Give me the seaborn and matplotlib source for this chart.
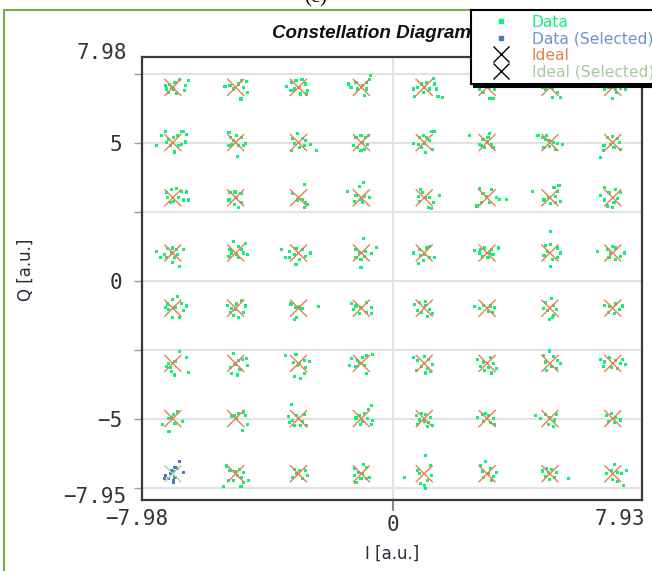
"""Constellation diagram (64-QAM) recreated with seaborn."""

import pandas as pd
import matplotlib
matplotlib.use("Agg")
import matplotlib.pyplot as plt
from matplotlib.lines import Line2D
from matplotlib.patches import Rectangle
import seaborn as sns

# Ideal levels of the constellation
i_levels = [-7, -5, -3, -1, 1, 3, 5, 7]
q_levels = [7, 5, 3, 1, -1, -3, -5, -7]

# received points, read off the picture as offsets (1/100 a.u.) from each
# ideal point; one list per cluster, clusters ordered by i_levels
row_q7 = [
    [(-24, 8), (-14, -18), (2, -6), (7, 18), (20, 28), (50, 24), (39, 8), (37, -12), (11, -22), (-5, 0), (-19, -6), (-10, 10)],
    [(-34, 4), (-18, 6), (19, 24), (35, 21), (24, 0), (38, -18), (17, -42), (-7, -6), (8, 12)],
    [(-38, 4), (-21, 18), (-8, 24), (11, 28), (23, 12), (29, -12), (25, -24), (7, -24), (-14, -6), (-24, -12), (2, 0)],
    [(-40, 12), (-33, -2), (-17, 16), (4, 6), (17, 18), (25, 30), (29, 42), (15, -6), (10, -30), (-12, -6)],
    [(-35, -6), (-22, 0), (-8, 12), (7, 18), (29, 33), (34, 12), (39, -6), (58, -36), (44, -33), (18, -6), (-3, -18), (-30, -33), (2, 0)],
    [(-39, 12), (-23, -6), (-7, 6), (8, 0), (24, -6), (8, -40), (19, -40), (-13, -18), (-23, 30), (8, 36)],
    [(-24, 0), (-8, 8), (7, -4), (23, -18), (34, -36), (7, -36), (-14, -6), (2, 30), (13, 24)],
    [(-25, -6), (-12, 0), (10, -6), (25, -4), (41, -6), (13, -18), (-1, -40), (-17, 12), (15, 18)],
]
row_q5 = [
    [(-51, -10), (-35, 24), (-24, 39), (-14, 12), (2, 18), (16, 24), (27, 39), (34, 39), (45, 28), (39, 2), (29, -6), (18, -12), (5, -34), (-8, -12), (-19, 0)],
    [(-21, 36), (-15, 18), (3, 24), (19, 18), (32, -2), (24, -12), (8, -10), (-13, -6), (-21, -12), (6, -52), (-7, 6)],
    [(-3, 34), (-19, 15), (13, 15), (23, 6), (39, -6), (57, -29), (18, -12), (2, -18), (-22, -30), (-14, -2)],
    [(-17, 18), (-1, 24), (13, 18), (23, 24), (20, -6), (10, -24), (-12, -18), (-25, -12), (4, 0), (-1, -30)],
    [(-35, -2), (-16, 18), (-3, 27), (7, 18), (23, 39), (31, 39), (18, 6), (27, -24), (5, -36), (-8, -18), (-19, -6), (2, -2)],
    [(-57, 24), (-23, -6), (-13, 12), (3, 18), (8, 34), (14, -6), (19, -18), (-7, -18), (-18, -10), (0, 2)],
    [(-38, 24), (-24, 18), (-11, 27), (-3, 6), (11, 0), (23, -2), (39, -6), (18, -24), (0, -15), (-19, -18), (-14, 12)],
    [(-17, 18), (-1, 22), (15, 15), (20, 0), (-6, -6), (-28, -10), (-30, -30), (-38, -54), (4, -18), (25, -24)],
]
row_q3 = [
    [(-19, 18), (-5, 30), (13, 33), (27, 24), (45, 21), (50, -8), (34, -8), (18, 0), (2, -12), (-8, -18), (-16, 0)],
    [(-18, 18), (-2, 21), (17, 16), (19, -18), (8, -36), (-4, -24), (-21, -8), (3, 0)],
    [(18, 48), (-19, 16), (11, -6), (23, -18), (18, -36), (29, -24), (-3, -8)],
    [(6, 54), (-6, 42), (-44, 24), (-17, 8), (10, 6), (25, 0), (-1, -6), (-22, -12), (4, -18)],
    [(-12, 30), (-5, 18), (-19, 6), (5, 0), (16, 0), (48, 8), (29, -18), (23, -40), (13, -36), (-14, -12)],
    [(-25, 33), (-13, 16), (14, 30), (30, 0), (40, -6), (61, -6), (8, -18), (-18, -18), (-32, -30), (-2, 6)],
    [(-56, 24), (13, 36), (29, 45), (23, 24), (18, 6), (34, -12), (18, -18), (2, -21), (-19, -8), (-3, 0)],
    [(-25, 36), (-38, 8), (-12, 18), (10, 30), (25, 18), (15, -4), (4, -18), (-17, -30), (-1, -36), (-25, -8)],
]
row_q1 = [
    [(-51, 6), (-40, -15), (-27, -6), (-16, 15), (-1, 18), (13, 12), (34, 12), (16, -6), (5, -18), (-1, -36), (20, -48), (-19, -18), (-5, 0)],
    [(-7, 42), (32, 34), (8, 24), (-18, 12), (19, 12), (38, -6), (24, 0), (8, -18), (-21, -12), (-13, 0), (3, -6)],
    [(-53, 12), (-30, 6), (-8, 15), (13, 12), (39, 0), (23, -12), (2, -24), (-8, -42), (-30, -15), (-42, -15), (-14, -6)],
    [(6, 54), (47, 21), (-17, 12), (-6, 0), (13, 6), (10, -12), (-1, -24), (-17, -18), (-1, -54), (31, -2)],
    [(-35, 0), (-14, 12), (7, 18), (16, 24), (2, -6), (18, -18), (34, -18), (-3, -27), (-19, -39), (-12, -10)],
    [(-39, 10), (-21, 12), (-7, 18), (14, 12), (35, 18), (19, -6), (3, -18), (-15, -12), (-25, 0), (8, 0)],
    [(2, 79), (-14, 27), (2, 30), (23, 18), (34, 0), (25, -18), (7, -24), (2, -48), (-19, -10), (-8, 6)],
    [(-49, 6), (-17, 12), (-1, 22), (10, 18), (36, 0), (25, -12), (10, -24), (-12, -18), (-6, 0)],
]
row_qm1 = [
    [(-24, 2), (-16, 15), (-1, 30), (16, 42), (27, 18), (45, 8), (34, -10), (20, -34), (-1, -34), (-14, -4), (7, 2)],
    [(-25, 11), (-13, -1), (3, 15), (19, 27), (32, 8), (24, -16), (8, -34), (-7, -25), (-15, -16), (0, -6)],
    [(-24, 15), (-8, 2), (11, -1), (64, 5), (-6, -34), (-14, -40), (2, 6)],
    [(-30, 18), (-17, 8), (-1, 2), (15, 21), (31, 2), (31, -18), (15, -16), (-6, -18), (-25, -6)],
    [(-30, 12), (-14, 20), (5, 10), (18, -5), (-8, -15), (10, -30), (25, -20), (-20, -8), (3, 25)],
    [(-40, 5), (-25, 0), (12, 8), (25, 2), (5, -12), (-10, 10), (18, -15)],
    [(-15, 20), (5, 35), (12, 10), (-8, -10), (10, -25), (0, -42), (20, -5), (-20, 0), (8, -35)],
    [(-25, 10), (-10, 5), (8, 15), (20, -5), (5, -20), (-15, -15), (30, 8)],
]
row_qm3 = [
    [(20, 42), (45, 21), (-14, 0), (-19, -12), (-3, -30), (5, -42), (50, -33), (7, 6), (-8, -16)],
    [(-7, 36), (8, 12), (21, 15), (35, 18), (38, -8), (14, -21), (6, -42), (-13, -36), (-15, -16), (-2, -4)],
    [(-42, 27), (-8, 33), (-17, 4), (-3, -8), (18, 12), (34, 8), (23, -16), (18, -36), (7, -54), (-14, -46), (2, 0)],
    [(-30, 18), (-12, 12), (4, 21), (15, 28), (36, 33), (-38, -8), (-17, -12), (10, -8), (15, -36), (-6, 0)],
    [(-35, 20), (-20, 10), (0, 25), (15, 15), (25, -5), (10, -20), (-10, -12), (-25, -25), (5, -35), (20, -30)],
    [(-30, 15), (-12, 5), (10, 20), (20, 0), (5, -15), (-8, -25), (15, -35), (-20, -10), (30, -20)],
    [(-20, 30), (0, 45), (10, 25), (25, 10), (-15, 5), (5, -10), (20, -20), (-10, -25), (35, 0)],
    [(-40, 15), (-25, 5), (-10, 20), (10, 10), (25, 0), (40, -5), (15, -20), (-5, -15), (-30, -10), (30, 15)],
]
row_qm5 = [
    [(-33, -22), (-14, 0), (2, 15), (16, 24), (31, -12), (7, -18), (-12, -46), (-3, 2)],
    [(-13, 6), (8, 18), (24, 24), (32, 12), (38, -22), (21, -42), (3, 0), (-4, 10)],
    [(-21, 51), (-32, 6), (-19, -6), (-6, 12), (18, 15), (13, -12), (25, -24), (7, -24), (-14, -24), (-30, -15), (0, 0)],
    [(31, 48), (23, 34), (10, 18), (-6, 10), (-17, 2), (20, 0), (36, -6), (31, -22), (-4, -22), (4, -10)],
    [(-25, 10), (-10, 20), (5, 15), (20, 5), (-15, -5), (0, -10), (15, -15), (-20, -20), (10, -30), (25, -25)],
    [(-30, 5), (-15, 15), (5, 10), (20, 0), (10, -15), (-10, -10), (25, -20), (-5, 20)],
    [(-45, 10), (-30, 0), (-15, 15), (0, 5), (15, -5), (-5, -20), (20, 15), (10, -30)],
    [(-20, 10), (-5, 20), (10, 5), (25, -5), (5, -15), (-15, -10)],
]
row_qm7 = [
    [(20, 45), (7, 24), (2, 8), (-8, 0), (-22, -6), (-27, -16), (-14, -18), (2, -24), (7, -12), (34, 6), (-5, 12), (16, 18), (2, -33)],
    [(-28, 28), (-18, 12), (-2, 8), (11, 16), (24, 4), (19, -12), (40, -24), (24, -30), (17, -45), (-7, -24), (-23, -24), (-39, -45), (6, -6)],
    [(-14, 16), (2, 12), (23, 12), (29, -6), (13, -18), (-6, 0), (-19, -12)],
    [(-22, 18), (6, 33), (15, 24), (-8, 6), (4, 0), (25, -12), (15, -18), (-17, -30), (-1, -16), (-22, -6)],
    [(5, 67), (21, 30), (-21, 12), (-64, -12), (-16, 0), (11, -24), (0, -42), (-11, -36), (5, -54), (23, -6)],
    [(-20, 30), (-5, 45), (10, 20), (-15, 10), (5, 0), (20, -10), (-10, -15), (15, -25), (30, 5)],
    [(-25, 10), (-10, 20), (5, 15), (20, 5), (-15, -10), (0, -20), (15, -15), (60, -18), (-5, 5)],
    [(5, 34), (-21, 0), (16, 6), (27, 0), (45, 12), (0, -22), (16, -27), (34, -42), (-5, 12)],
]
rows = [row_q7, row_q5, row_q3, row_q1, row_qm1, row_qm3, row_qm5, row_qm7]

# the one cluster that is highlighted
selected_point = (-7, -7)

# colours
data_color = "#12f07c"
selected_color = "#4b7db5"
ideal_color = "#e5804c"
ideal_selected_color = "#a9d6a4"


def build_frames():
    """Build the received-point and ideal-point tables."""
    recs = []
    ideal = []
    for q, row in zip(q_levels, rows):
        for i, cluster in zip(i_levels, row):
            kind = "Data (Selected)" if (i, q) == selected_point else "Data"
            for dx, dy in cluster:
                recs.append({"I": i + dx / 100, "Q": q + dy / 100, "kind": kind})
            ikind = "Ideal (Selected)" if (i, q) == selected_point else "Ideal"
            ideal.append({"I": i, "Q": q, "kind": ikind})
    return pd.DataFrame(recs), pd.DataFrame(ideal)


df, df_ideal = build_frames()

sns.set_style("white")
plt.rcParams["font.family"] = ["DejaVu Sans"]

W, H = 652, 571
fig = plt.figure(figsize=(W / 100, H / 100), dpi=100)
ax = fig.add_axes([142 / W, 71 / H, 500 / W, 443 / H])

sns.scatterplot(data=df, x="I", y="Q", hue="kind", ax=ax, legend=False,
                palette={"Data": data_color, "Data (Selected)": selected_color},
                marker="s", s=5, linewidth=0, zorder=3)
sns.scatterplot(data=df_ideal, x="I", y="Q", hue="kind", ax=ax, legend=False,
                palette={"Ideal": ideal_color, "Ideal (Selected)": ideal_selected_color},
                marker="x", s=150, linewidth=1.0, zorder=4)

ax.set_xlim(-7.98, 7.93)
ax.set_ylim(-7.95, 8.1)

# ticks / grid
ax.set_xticks([0])
ax.set_xticklabels(["0"])
ax.set_yticks([-7.5, -5, -2.5, 0, 2.5, 5, 7.5])
ax.set_yticklabels(["", "\u22125", "", "0", "", "5", ""])
ax.grid(True, color="#e2e2e2", linewidth=1.5)
ax.set_axisbelow(True)
ax.tick_params(axis="y", direction="out", length=6, width=1, color="#9a9a9a",
               pad=8, labelsize=15, labelcolor="#333333", left=True)
ax.tick_params(axis="x", direction="out", length=8, width=1.5, color="#8a8a8a",
               pad=3, labelsize=15, labelcolor="#333333", bottom=True)
for lab in ax.get_xticklabels() + ax.get_yticklabels():
    lab.set_family("DejaVu Sans Mono")
for sp in ax.spines.values():
    sp.set_color("#3a3a3a")
    sp.set_linewidth(1.6)

# limit labels at the corners
mono = dict(family="DejaVu Sans Mono", fontsize=15, color="#333333")
ax.annotate("7.98", xy=(0, 1), xycoords="axes fraction", xytext=(-11, 3),
            textcoords="offset points", ha="right", va="center", **mono)
ax.annotate("\u22127.95", xy=(0, 0), xycoords="axes fraction", xytext=(-11, 2),
            textcoords="offset points", ha="right", va="center", **mono)
ax.annotate("\u22127.98", xy=(0, 0), xycoords="axes fraction", xytext=(-4, -14),
            textcoords="offset points", ha="center", va="center", **mono)
ax.annotate("7.93", xy=(1, 0), xycoords="axes fraction", xytext=(-16, -14),
            textcoords="offset points", ha="center", va="center", **mono)

ax.set_xlabel("I [a.u.]", fontsize=12, color="#2b2b3a")
ax.set_ylabel("Q [a.u.]", fontsize=12, color="#2b2b3a")
ax.xaxis.set_label_coords(0.5, -0.102)
ax.yaxis.set_label_coords(-0.214, 0.519)

ax.text(0.26, 1.054, "Constellation Diagram", transform=ax.transAxes,
        ha="left", va="center", fontsize=13.5, fontweight="bold",
        style="italic", family="Liberation Sans", color="#111111")

# legend (partly off the canvas, like the screenshot)
handles = [
    Line2D([], [], marker="s", markersize=2.5, color=data_color, linestyle="none"),
    Line2D([], [], marker="s", markersize=2.5, color=selected_color, linestyle="none"),
    Line2D([], [], marker="x", markersize=12, mew=1, color="black", linestyle="none"),
    Line2D([], [], marker="x", markersize=12, mew=1, color="black", linestyle="none"),
]
labels = ["Data", "Data (Selected)", "Ideal", "Ideal (Selected)"]
leg = fig.legend(handles, labels, loc="upper left",
                 bbox_to_anchor=(471 / W, 1 - 10 / H), borderaxespad=0,
                 fontsize=11.2, frameon=True, fancybox=False, framealpha=1,
                 edgecolor="black", borderpad=0.3, labelspacing=0.1,
                 handlelength=3.2, handletextpad=0.4,
                 shadow=dict(color="black", alpha=1))
leg.get_frame().set_linewidth(1.5)
for txt, col in zip(leg.get_texts(),
                    [data_color, "#6f93c6", ideal_color, "#a9c9a3"]):
    txt.set_color(col)

# green outer frame and the cut-off panel tag
fig.add_artist(Rectangle((4 / W, -0.1), 1.0, 1 - 10 / H + 0.1,
                         transform=fig.transFigure, fill=False,
                         edgecolor="#72b04c", linewidth=1.5))
fig.text(316 / W, 1 + 2 / H, "(c)", ha="center", va="center", fontsize=15,
         family="Liberation Serif", color="black")

fig.savefig("out.png", dpi=100)
